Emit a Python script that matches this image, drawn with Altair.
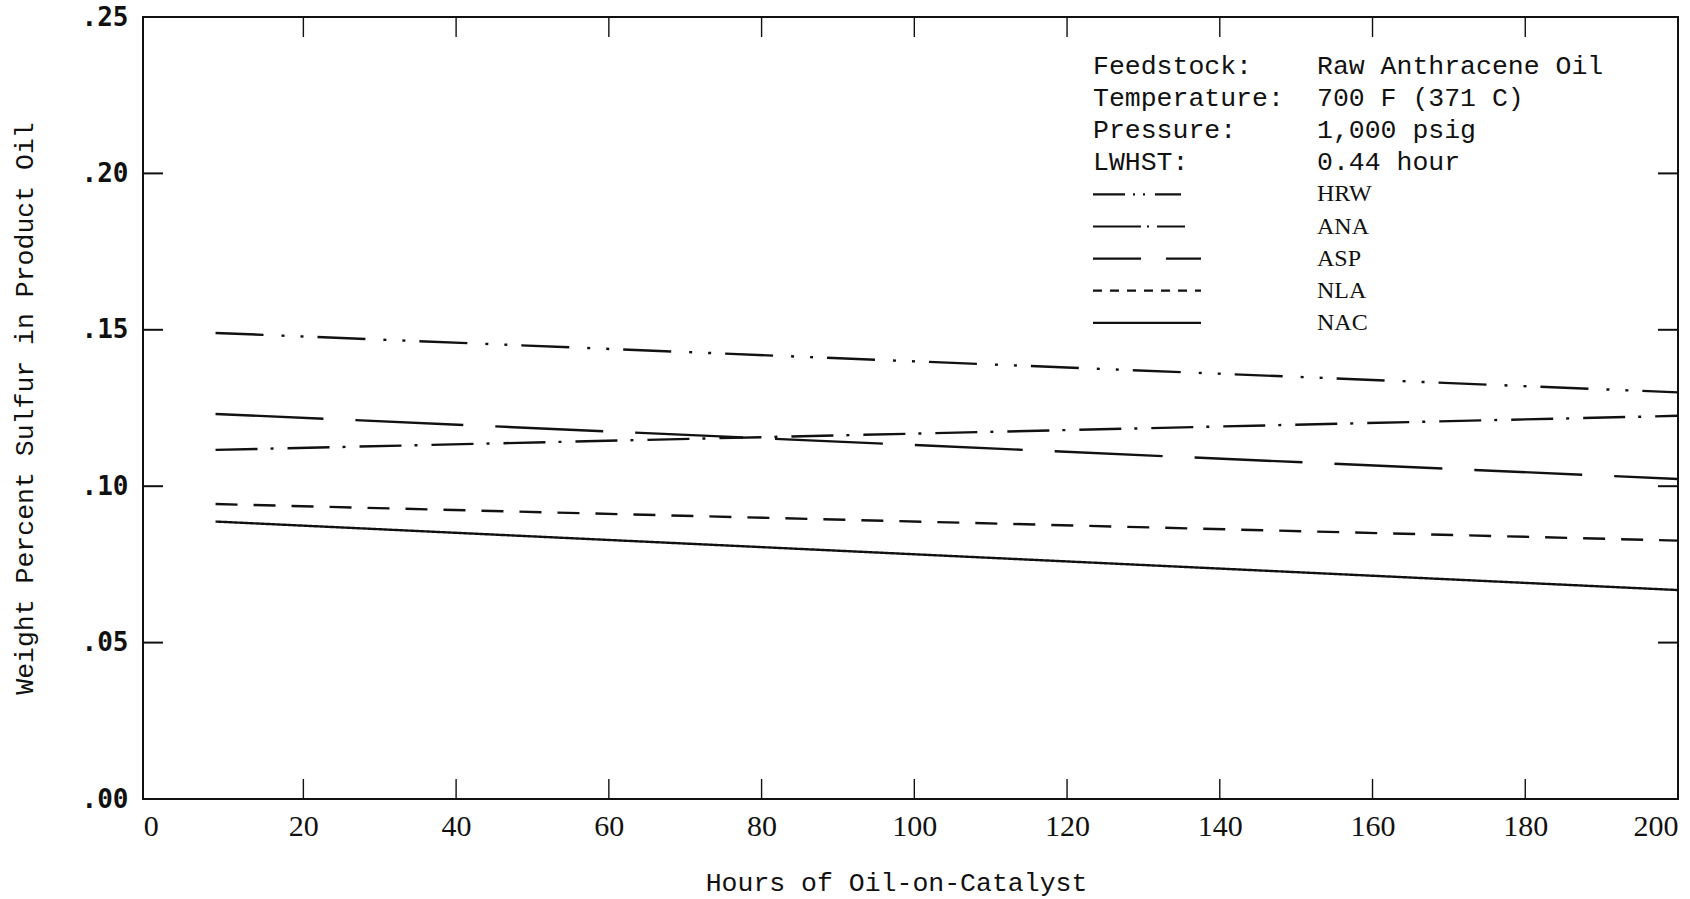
import altair as alt
import pandas as pd

# ---- data -------------------------------------------------------------
hours = [8.5, 200]
series_names = ["HRW", "ANA", "ASP", "NLA", "NAC"]
hrw = [0.149, 0.130]
ana = [0.1116, 0.1225]
asp = [0.1231, 0.1023]
nla = [0.0943, 0.0826]
nac = [0.0887, 0.0668]

x_ticks = [0, 20, 40, 60, 80, 100, 120, 140, 160, 180, 200]
y_ticks = [0.0, 0.05, 0.10, 0.15, 0.20, 0.25]

info_keys = ["Feedstock:", "Temperature:", "Pressure:", "LWHST:"]
info_values = ["Raw Anthracene Oil", "700 F (371 C)", "1,000 psig", "0.44 hour"]

X_TITLE = "Hours of Oil-on-Catalyst"
Y_TITLE = "Weight Percent Sulfur in Product Oil"

# ---- styling ------------------------------------------------------------
dash_patterns = [[48, 18, 3, 16, 3, 14], [42, 13, 3, 14], [108, 32], [22, 16], [1, 0]]
key_dash_patterns = [[32, 8, 2, 8, 2, 10, 60], [48, 6, 2, 8, 60], [48, 25, 60], [9, 8], [1, 0]]
W, H = 1535, 782
MONO = "Liberation Mono"
SERIF = "Liberation Serif"
INK = "#111111"

rows = []
for name, vals in zip(series_names, [hrw, ana, asp, nla, nac]):
    for h, v in zip(hours, vals):
        rows.append({"series": name, "hours": h, "sulfur": v})
df = pd.DataFrame(rows)

xs = alt.Scale(domain=[-1, 200], nice=False, zero=False)
ys = alt.Scale(domain=[0, 0.25], nice=False)

lines = alt.Chart(df).mark_line(strokeWidth=2.4, color=INK, strokeCap="butt").encode(
    x=alt.X(
        "hours:Q",
        scale=xs,
        title=X_TITLE,
        axis=alt.Axis(values=x_ticks, format="d"),
    ),
    y=alt.Y(
        "sulfur:Q",
        scale=ys,
        title=Y_TITLE,
        axis=alt.Axis(values=y_ticks, labelExpr="substring(format(datum.value, '.2f'), 1)"),
    ),
    strokeDash=alt.StrokeDash(
        "series:N", scale=alt.Scale(domain=series_names, range=dash_patterns), legend=None
    ),
)

# inward tick marks on all four sides of the frame
ydf = pd.DataFrame({"v": y_ticks[1:-1]})
xdf = pd.DataFrame({"v": x_ticks[1:-1]})
TL = 20
tick_layers = [
    alt.Chart(ydf).mark_rule(strokeWidth=2, color=INK).encode(
        y=alt.Y("v:Q", scale=ys, title=Y_TITLE), x=alt.value(0), x2=alt.value(TL)),
    alt.Chart(ydf).mark_rule(strokeWidth=2, color=INK).encode(
        y=alt.Y("v:Q", scale=ys, title=Y_TITLE), x=alt.value(W - TL), x2=alt.value(W)),
    alt.Chart(xdf).mark_rule(strokeWidth=1.4, color=INK).encode(
        x=alt.X("v:Q", scale=xs, title=X_TITLE), y=alt.value(H - TL), y2=alt.value(H)),
    alt.Chart(xdf).mark_rule(strokeWidth=1.4, color=INK).encode(
        x=alt.X("v:Q", scale=xs, title=X_TITLE), y=alt.value(0), y2=alt.value(TL)),
]

# key block in the upper right
KX1, KX2 = 950, 1174
KY0, KSTEP = 49, 32.1
key_layers = []
for i, (k, v) in enumerate(zip(info_keys, info_values)):
    y = KY0 + i * KSTEP
    key_layers.append(
        alt.Chart(pd.DataFrame({"t": [k]})).mark_text(
            align="left", baseline="middle", font=MONO, fontSize=26.5, color=INK
        ).encode(text="t:N", x=alt.value(KX1), y=alt.value(y))
    )
    key_layers.append(
        alt.Chart(pd.DataFrame({"t": [v]})).mark_text(
            align="left", baseline="middle", font=MONO, fontSize=26.5, color=INK
        ).encode(text="t:N", x=alt.value(KX2), y=alt.value(y))
    )
key_len = [88, 92, 108, 108, 108]
for j, name in enumerate(series_names):
    y = KY0 + (len(info_keys) + j) * KSTEP
    key_layers.append(
        alt.Chart(pd.DataFrame({"series": [name]})).mark_rule(
            strokeWidth=2.2, color=INK, strokeDash=key_dash_patterns[j], strokeCap="butt"
        ).encode(x=alt.value(KX1), x2=alt.value(KX1 + key_len[j]), y=alt.value(y))
    )
    key_layers.append(
        alt.Chart(pd.DataFrame({"t": [name]})).mark_text(
            align="left", baseline="middle", font=SERIF, fontSize=24, color=INK
        ).encode(text="t:N", x=alt.value(KX2), y=alt.value(y))
    )

chart = (
    alt.layer(lines, *tick_layers, *key_layers)
    .properties(
        width=W,
        height=H,
        autosize=alt.AutoSizeParams(type="none"),
        padding={"left": 143, "top": 17, "right": 12, "bottom": 100},
    )
    .configure(background="white")
    .configure_view(stroke=INK, strokeWidth=2)
    .configure_axis(
        ticks=False, tickSize=0, domain=False, grid=False,
        labelColor=INK, titleColor=INK, titleFont=MONO, titleFontSize=26.5,
        titleFontWeight="normal", titleAlign="center", titleBaseline="middle",
    )
    .configure_axisX(
        labelFont=SERIF, labelFontSize=30, labelPadding=12,
        titleX=753, titleY=83,
    )
    .configure_axisY(
        labelFont="DejaVu Sans Mono", labelFontSize=26, labelFontWeight="bold",
        labelPadding=15, titleX=-119, titleY=391, titleAngle=270,
    )
)

chart.save("out.html", embed_options={"renderer": "svg", "actions": False})
